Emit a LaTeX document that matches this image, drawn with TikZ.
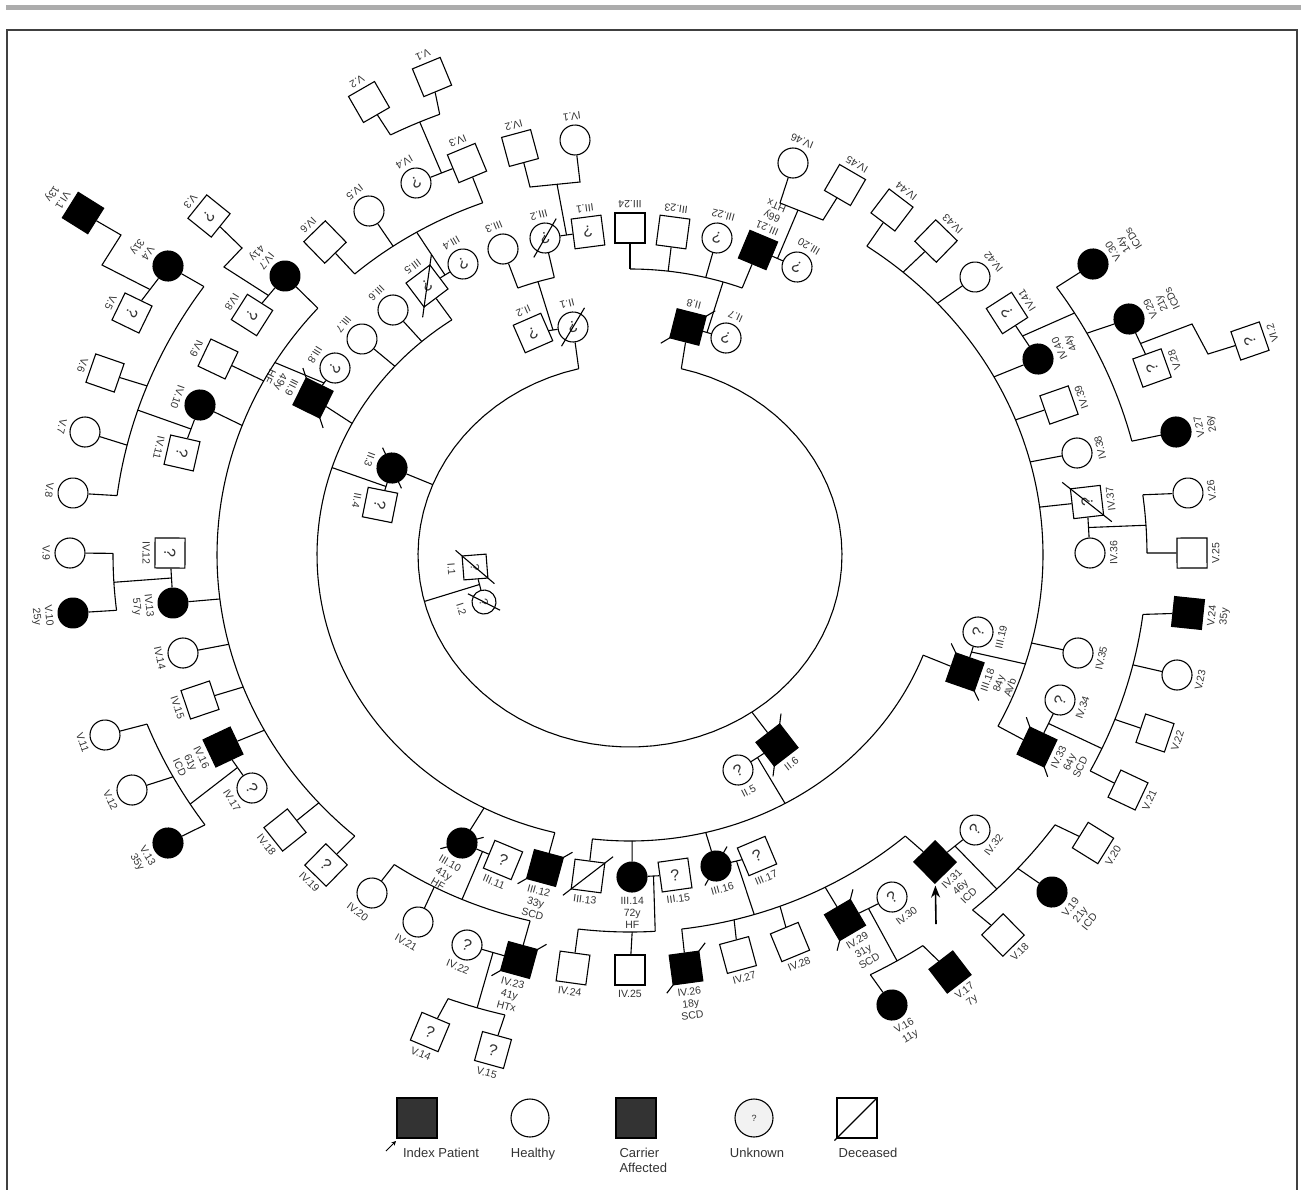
\documentclass[tikz,border=0pt]{standalone}
\usepackage{fontspec}
\setmainfont{Liberation Sans}
\usetikzlibrary{calc}
\usetikzlibrary{arrows.meta}

% one person of the pedigree: name, x, y, style, symbol text, label
% symbol and label are turned so that the label points away from the centre
\newcommand{\pers}[6]{%
  \pgfmathsetmacro{\pang}{atan2(#3-555,#2-630)}%
  \pgfmathsetmacro{\prot}{90-\pang}%
  \pgfmathsetmacro{\plx}{#2+19*cos(\pang)}%
  \pgfmathsetmacro{\ply}{#3+19*sin(\pang)}%
  \node[#4, rotate=\prot] (#1) at (#2,#3) {#5};
  \node[lab, rotate=\prot, anchor=north] (#1lab) at (\plx,\ply) {#6};}
% deceased: slash through the symbol
\newcommand{\dead}[1]{\draw ($(#1.south west)!-0.22!(#1.north east)$) -- ($(#1.south west)!1.22!(#1.north east)$);}
% sibship line on one of the rings round the centre
\newcommand{\ringarc}[4]{\draw[domain=#3:#4, samples=80, variable=\a] plot ({630+#1*cos(\a)},{555+#2*sin(\a)});}

\begin{document}
\begin{tikzpicture}[x=1pt, y=-1pt, line width=1.1pt,
    sq/.style={draw, rectangle, minimum size=30pt, inner sep=0pt, font=\fontsize{16}{16}\selectfont, text=black!80},
    ci/.style={draw, circle, minimum size=30pt, inner sep=0pt, font=\fontsize{16}{16}\selectfont, text=black!80},
    aff/.style={fill=black},
    gensmall/.style={minimum size=24pt, font=\fontsize{12}{12}\selectfont},
    lab/.style={font=\fontsize{10.5}{12}\selectfont, text=black!80, align=center, inner sep=0.5pt},
    lgd/.style={font=\fontsize{13}{15}\selectfont, text=black!80, inner sep=0pt, align=left}]
    \useasboundingbox (0,0) rectangle (1301,1189);

    % Frame
    \draw[gray!65, line width=5pt] (6,7.5) -- (1301,7.5);
    \draw[black!75, line width=1.3pt] (7,1195) -- (7,30) -- (1297,30) -- (1297,1195);
    \coordinate (C) at (630,555);

    % Generation I
    \pers{I1}{475}{567}{sq,gensmall}{?}{I.1}
    \pers{I2}{484}{602}{ci,gensmall}{?}{I.2}
    \dead{I1} \dead{I2}

    % Generation II
    \pers{II1}{573}{327}{ci}{?}{II.1}
    \pers{II2}{533}{333}{sq}{?}{II.2}
    \pers{II3}{392}{468}{ci,aff}{}{II.3}
    \pers{II4}{380}{505}{sq}{?}{II.4}
    \pers{II5}{738}{770}{ci}{?}{II.5}
    \pers{II6}{777}{745}{sq,aff}{}{II.6}
    \pers{II7}{726}{338}{ci}{?}{II.7}
    \pers{II8}{688}{327}{sq,aff}{}{II.8}
    \dead{II1} \dead{II3} \dead{II6} \dead{II8}

    % Generation III
    \pers{III1}{588}{232}{sq}{?}{III.1}
    \pers{III2}{545}{238}{ci}{?}{III.2}
    \pers{III3}{503}{249}{ci}{}{III.3}
    \pers{III4}{463}{264}{ci}{?}{III.4}
    \pers{III5}{427}{286}{sq}{?}{III.5}
    \pers{III6}{393}{310}{ci}{}{III.6}
    \pers{III7}{362}{339}{ci}{}{III.7}
    \pers{III8}{335}{368}{ci}{?}{III.8}
    \pers{III9}{313}{398}{sq,aff}{}{III.9\\49y\\HF}
    \pers{III10}{462}{843}{ci,aff}{}{III.10\\41y\\HF}
    \pers{III11}{503}{860}{sq}{?}{III.11}
    \pers{III12}{545}{868}{sq,aff}{}{III.12\\33y\\SCD}
    \pers{III13}{588}{876}{sq}{}{III.13}
    \pers{III14}{632}{877}{ci,aff}{}{III.14\\72y\\HF}
    \pers{III15}{675}{875}{sq}{?}{III.15}
    \pers{III16}{716}{866}{ci,aff}{}{III.16}
    \pers{III17}{757}{856}{sq}{?}{III.17}
    \pers{III18}{965}{672}{sq,aff}{}{III.18\\84y\\AVb}
    \pers{III19}{978}{632}{ci}{?}{III.19}
    \pers{III20}{797}{267}{ci}{?}{III.20}
    \pers{III21}{758}{250}{sq,aff}{}{III.21\\66y\\HTx}
    \pers{III22}{717}{238}{ci}{?}{III.22}
    \pers{III23}{673}{232}{sq}{}{III.23}
    \pers{III24}{630}{228}{sq}{}{III.24}
    \dead{III2} \dead{III5} \dead{III9} \dead{III10} \dead{III12}
    \dead{III13} \dead{III16} \dead{III18}

    % Generation IV
    \pers{IV1}{575}{140}{ci}{}{IV.1}
    \pers{IV2}{520}{148}{sq}{}{IV.2}
    \pers{IV3}{467}{163}{sq}{}{IV.3}
    \pers{IV4}{416}{183}{ci}{?}{IV.4}
    \pers{IV5}{369}{211}{ci}{}{IV.5}
    \pers{IV6}{325}{242}{sq}{}{IV.6}
    \pers{IV7}{285}{276}{ci,aff}{}{IV.7\\41y}
    \pers{IV8}{252}{315}{sq}{?}{IV.8}
    \pers{IV9}{218}{359}{sq}{}{IV.9}
    \pers{IV10}{200}{405}{ci,aff}{}{IV.10}
    \pers{IV11}{182}{453}{sq}{?}{IV.11}
    \pers{IV12}{170}{553}{sq}{?}{IV.12}
    \pers{IV13}{173}{603}{ci,aff}{}{IV.13\\57y}
    \pers{IV14}{183}{653}{ci}{}{IV.14}
    \pers{IV15}{200}{700}{sq}{}{IV.15}
    \pers{IV16}{223}{747}{sq,aff}{}{IV.16\\61y\\ICD}
    \pers{IV17}{252}{788}{ci}{?}{IV.17}
    \pers{IV18}{285}{830}{sq}{}{IV.18}
    \pers{IV19}{326}{865}{sq}{?}{IV.19}
    \pers{IV20}{372}{893}{ci}{}{IV.20}
    \pers{IV21}{418}{922}{ci}{}{IV.21}
    \pers{IV22}{467}{945}{ci}{?}{IV.22}
    \pers{IV23}{519}{960}{sq,aff}{}{IV.23\\41y\\HTx}
    \pers{IV24}{573}{968}{sq}{}{IV.24}
    \pers{IV25}{630}{970}{sq}{}{IV.25}
    \pers{IV26}{686}{968}{sq,aff}{}{IV.26\\18y\\SCD}
    \pers{IV27}{738}{955}{sq}{}{IV.27}
    \pers{IV28}{790}{942}{sq}{}{IV.28}
    \pers{IV29}{845}{920}{sq,aff}{}{IV.29\\31y\\SCD}
    \pers{IV30}{892}{897}{ci}{?}{IV.30}
    \pers{IV31}{935}{862}{sq,aff}{}{IV.31\\46y\\ICD}
    \pers{IV32}{975}{830}{ci}{?}{IV.32}
    \pers{IV33}{1037}{747}{sq,aff}{}{IV.33\\64y\\SCD}
    \pers{IV34}{1060}{700}{ci}{?}{IV.34}
    \pers{IV35}{1078}{653}{ci}{}{IV.35}
    \pers{IV36}{1090}{553}{ci}{}{IV.36}
    \pers{IV37}{1087}{502}{sq}{?}{IV.37}
    \pers{IV38}{1077}{453}{ci}{}{IV.38}
    \pers{IV39}{1059}{405}{sq}{}{IV.39}
    \pers{IV40}{1038}{359}{ci,aff}{}{IV.40\\44y}
    \pers{IV41}{1007}{313}{sq}{?}{IV.41}
    \pers{IV42}{975}{277}{ci}{}{IV.42}
    \pers{IV43}{936}{241}{sq}{}{IV.43}
    \pers{IV44}{892}{210}{sq}{}{IV.44}
    \pers{IV45}{845}{185}{sq}{}{IV.45}
    \pers{IV46}{793}{163}{ci}{}{IV.46}
    \dead{IV23} \dead{IV26} \dead{IV29} \dead{IV33} \dead{IV37}

    % Generation V
    \pers{V1}{432}{77}{sq}{}{V.1}
    \pers{V2}{369}{102}{sq}{}{V.2}
    \pers{V3}{209}{216}{sq}{?}{V.3}
    \pers{V4}{168}{266}{ci,aff}{}{V.4\\31y}
    \pers{V5}{132}{313}{sq}{?}{V.5}
    \pers{V6}{105}{373}{sq}{}{V.6}
    \pers{V7}{85}{432}{ci}{}{V.7}
    \pers{V8}{73}{493}{ci}{}{V.8}
    \pers{V9}{70}{553}{ci}{}{V.9}
    \pers{V10}{73}{613}{ci,aff}{}{V.10\\25y}
    \pers{V11}{105}{735}{ci}{}{V.11}
    \pers{V12}{132}{790}{ci}{}{V.12}
    \pers{V13}{168}{843}{ci,aff}{}{V.13\\35y}
    \pers{V14}{430}{1032}{sq}{?}{V.14}
    \pers{V15}{493}{1050}{sq}{?}{V.15}
    \pers{V16}{892}{1005}{ci,aff}{}{V.16\\11y}
    \pers{V17}{950}{972}{sq,aff}{}{V.17\\7y}
    \pers{V18}{1003}{935}{sq}{}{V.18}
    \pers{V19}{1052}{892}{ci,aff}{}{V.19\\21y\\ICD}
    \pers{V20}{1093}{843}{sq}{}{V.20}
    \pers{V21}{1128}{790}{sq}{}{V.21}
    \pers{V22}{1155}{733}{sq}{}{V.22}
    \pers{V23}{1177}{675}{ci}{}{V.23}
    \pers{V24}{1188}{613}{sq,aff}{}{V.24\\35y}
    \pers{V25}{1192}{553}{sq}{}{V.25}
    \pers{V26}{1188}{493}{ci}{}{V.26}
    \pers{V27}{1176}{432}{ci,aff}{}{V.27\\26y}
    \pers{V28}{1152}{368}{sq}{?}{V.28}
    \pers{V29}{1129}{319}{ci,aff}{}{V.29\\21y\\ICDs}
    \pers{V30}{1093}{264}{ci,aff}{}{V.30\\14y\\ICDs}

    % Generation VI
    \pers{VI1}{83}{213}{sq,aff}{}{VI.1\\13y}
    \pers{VI2}{1250}{341}{sq}{?}{VI.2}

    % Couples
    \foreach \a/\b in {I1/I2, II1/II2, II3/II4, II5/II6, II7/II8, III1/III2, III4/III5,
        III8/III9, III10/III11, III14/III15, III16/III17, III18/III19, III20/III21,
        IV3/IV4, IV7/IV8, IV10/IV11, IV12/IV13, IV16/IV17, IV22/IV23, IV29/IV30,
        IV31/IV32, IV33/IV34, IV36/IV37, IV40/IV41, V4/V5, V28/V29}
        \draw (\a) -- (\b);

    % Sibship rings
    \ringarc{212}{192}{-76}{256}
    \ringarc{313}{286}{249}{256}
    \ringarc{313}{286}{270}{291}
    \ringarc{313}{286}{20.5}{96.9}
    \ringarc{313}{286}{103.9}{235.3}
    \ringarc{413}{377}{228.2}{249.1}
    \ringarc{413}{377}{131.8}{220.9}
    \ringarc{413}{377}{104}{124.8}
    \ringarc{413}{377}{86.5}{97.2}
    \ringarc{413}{377}{48.2}{82.8}
    \ringarc{413}{377}{-55}{27}
    \ringarc{517}{474}{242.4}{248.4}
    \ringarc{517}{474}{187.2}{214.5}
    \ringarc{517}{474}{173.3}{180.2}
    \ringarc{517}{474}{145.3}{159.1}
    \ringarc{517}{474}{104}{110.6}
    \ringarc{517}{474}{55.5}{62.3}
    \ringarc{517}{474}{34.7}{48.5}
    \ringarc{517}{474}{7.2}{27.1}
    \ringarc{517}{474}{-7.3}{-0.24}
    \ringarc{517}{474}{-34.4}{-13.9}

    % Descent lines from couples
    \draw ($(I1)!.5!(I2)$) -- ($(C)+(166:212 and 192)$);
    \draw ($(II1)!.5!(II2)$) -- ($(C)+(252.9:313 and 286)$);
    \draw ($(II7)!.5!(II8)$) -- ($(C)+(287.3:313 and 286)$);
    \draw ($(II3)!.5!(II4)$) -- ($(C)+(197.8:313 and 286)$);
    \draw ($(II5)!.5!(II6)$) -- ($(C)+(60.3:313 and 286)$);
    \draw ($(III4)!.5!(III5)$) -- ($(C)+(238.9:413 and 377)$);
    \draw ($(III8)!.5!(III9)$) -- ($(C)+(210.7:413 and 377)$);
    \draw ($(III10)!.5!(III11)$) -- ($(C)+(114:413 and 377)$);
    \draw ($(III14)!.5!(III15)$) -- ($(C)+(86.5:413 and 377)$);
    \draw ($(III16)!.5!(III17)$) -- ($(C)+(72.5:413 and 377)$);
    \draw ($(III18)!.5!(III19)$) -- ($(C)+(16.8:413 and 377)$);
    \draw ($(IV3)!.5!(IV4)$) -- ($(C)+(246:517 and 474)$);
    \draw ($(IV10)!.5!(IV11)$) -- ($(C)+(197.8:517 and 474)$);
    \draw ($(IV12)!.5!(IV13)$) -- ($(C)+(176.7:517 and 474)$);
    \draw ($(IV16)!.5!(IV17)$) -- ($(C)+(148.3:517 and 474)$);
    \draw ($(IV22)!.5!(IV23)$) -- ($(C)+(107.2:517 and 474)$);
    \draw ($(IV29)!.5!(IV30)$) -- ($(C)+(58.9:517 and 474)$);
    \draw ($(IV31)!.5!(IV32)$) -- ($(C)+(44.8:517 and 474)$);
    \draw ($(IV33)!.5!(IV34)$) -- ($(C)+(24.1:517 and 474)$);
    \draw ($(IV36)!.5!(IV37)$) -- ($(C)+(-3.6:517 and 474)$);
    \draw ($(IV40)!.5!(IV41)$) -- ($(C)+(-30.7:517 and 474)$);

    % Children hanging from the rings
    \foreach \p/\ang in {II8/-76, II1/256, II3/201.5, II6/54.9}
        \draw ($(C)+(\ang:212 and 192)$) -- (\p);
    \foreach \p/\ang in {III3/249, III2/256, III24/270, III23/277, III22/284, III21/291,
        III5/235.3, III6/228.3, III7/221.3, III9/207.4, III10/117.8, III12/103.9,
        III13/96.9, III14/89.6, III16/76, III18/20.5}
        \draw ($(C)+(\ang:313 and 286)$) -- (\p);
    \foreach \p/\ang in {IV3/249.1, IV5/235, IV6/228.2, IV7/220.9, IV9/207.5, IV10/200.1,
        IV13/173.3, IV14/166.3, IV15/159.5, IV16/152.3, IV18/138.9, IV19/131.8,
        IV20/124.8, IV21/118.3, IV23/104, IV24/97.2, IV25/89.7, IV26/82.8, IV27/75.4,
        IV28/68.7, IV29/61.8, IV31/48.2, IV44/-55, IV43/-48.6, IV42/-41.9, IV40/-28.2,
        IV39/-21, IV38/-14.3, IV37/-7.3, IV35/13.5, IV33/27}
        \draw ($(C)+(\ang:413 and 377)$) -- (\p);
    \foreach \p/\ang in {V2/242.4, V1/248.4, V4/214.5, V6/200.9, V7/193.4, V8/187.2,
        V9/180.2, V10/173.3, V11/159.1, V12/152.1, V13/145.3, V14/110.6, V15/104,
        V16/62.3, V17/55.5, V18/48.5, V19/41.4, V20/34.7, V21/27.1, V22/20.3, V23/13.4,
        V24/7.2, V26/-7.3, V25/-0.24, V30/-34.4, V29/-27.9, V27/-13.9}
        \draw ($(C)+(\ang:517 and 474)$) -- (\p);

    % Small sibships off the rings
    \draw ($(III1)!.5!(III2)$) -- (557,184);
    \draw (IV2) -- (530,187) -- (580,182) -- (IV1);
    \draw ($(III20)!.5!(III21)$) -- (798,210);
    \draw (IV46) -- (780,203) -- (823,220) -- (IV45);
    \draw ($(IV7)!.5!(IV8)$) -- (224,267) -- (242,248) -- (V3);
    \draw ($(V4)!.5!(V5)$) -- (102,265) -- (121,235) -- (VI1);
    \draw ($(V28)!.5!(V29)$) -- (1192,324) -- (1208,354) -- (VI2);

    % Index patient arrow
    \coordinate (idxtail) at (936,924);
    \draw[-{Stealth[length=12pt, width=9pt]}, line width=1.6pt, shorten >=2pt] (idxtail) -- (IV31);

    % Legend
    \node[sq, fill=black!80, minimum size=40pt] (legIdx) at (417,1118) {};
    \coordinate (legArr) at (386,1151);
    \coordinate (legArrTip) at (396,1141);
    \draw[-{Stealth[length=4.5pt, width=4.5pt]}, line width=0.9pt] (legArr) -- (legArrTip);
    \node[lgd, anchor=north] (legIdxT) at (441,1148) {Index Patient};
    \node[ci, minimum size=38pt] (legHea) at (530,1118) {};
    \node[lgd, anchor=north] (legHeaT) at (533,1148) {Healthy};
    \node[sq, fill=black!80, minimum size=40pt] (legCar) at (636,1118) {};
    \node[lgd, anchor=north west] (legCarT) at (619,1148) {Carrier\\Affected};
    \node[ci, fill=gray!10, minimum size=38pt, font=\fontsize{9}{9}\selectfont] (legUnk) at (754,1118) {?};
    \node[lgd, anchor=north] (legUnkT) at (757,1148) {Unknown};
    \node[sq, minimum size=40pt] (legDec) at (857,1118) {};
    \draw ($(legDec.south west)!-0.05!(legDec.north east)$) -- (legDec.north east);
    \node[lgd, anchor=north] (legDecT) at (868,1148) {Deceased};
\end{tikzpicture}
\end{document}
